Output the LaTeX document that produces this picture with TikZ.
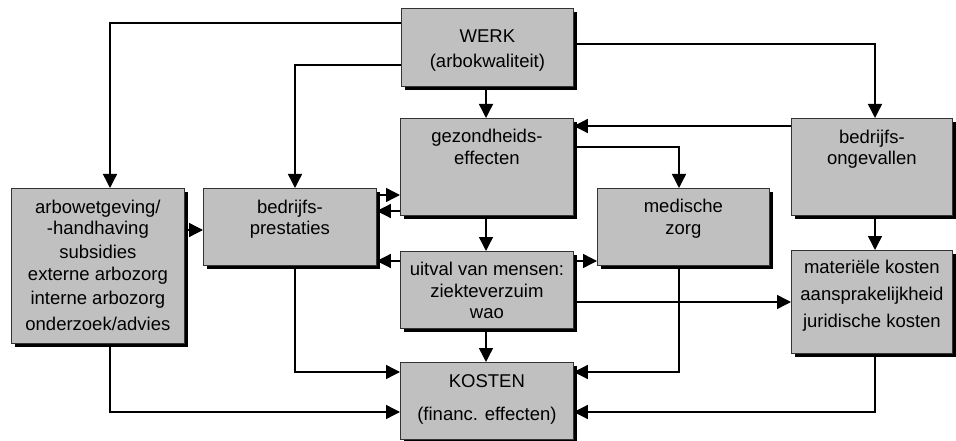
\documentclass[tikz,border=0pt]{standalone}
\usepackage{fontspec}
\setmainfont{Liberation Sans}
\usetikzlibrary{arrows.meta,positioning}
\definecolor{grey75}{HTML}{C0C0C0}
\tikzset{box/.style={draw=black!80,fill=grey75,line width=0.8pt,anchor=north west,inner sep=0pt}}
\tikzset{boxshadow/.style={fill=black}}
\tikzset{boxtext/.style={align=center,inner sep=0pt,font=\fontsize{18.5}{23}\selectfont}}
\tikzset{flow/.style={-{Triangle[length=14pt,width=14pt]},line width=1.4pt}}

\begin{document}
\begin{tikzpicture}[x=1pt,y=-1pt]
        \useasboundingbox (0,0) rectangle (956,441);

        % schaduw onder de blokken
        \fill[boxshadow] (405,12) rectangle (577,90);
        \fill[boxshadow] (404,122) rectangle (577,219);
        \fill[boxshadow] (795,122) rectangle (956,219);
        \fill[boxshadow] (15,192) rectangle (188,347);
        \fill[boxshadow] (207,192) rectangle (380,269);
        \fill[boxshadow] (601,192) rectangle (773,269);
        \fill[boxshadow] (404,255) rectangle (577,332);
        \fill[boxshadow] (795,254) rectangle (956,357);
        \fill[boxshadow] (404,366) rectangle (577,443);

        \node[box,minimum width=172pt,minimum height=78pt] (werk) at (401,8) {};
        \node[box,minimum width=173pt,minimum height=97pt] (gez) at (400,118) {};
        \node[box,minimum width=161pt,minimum height=97pt] (ongev) at (791,118) {};
        \node[box,minimum width=173pt,minimum height=155pt] (arbo) at (11,188) {};
        \node[box,minimum width=173pt,minimum height=77pt] (prest) at (203,188) {};
        \node[box,minimum width=172pt,minimum height=77pt] (med) at (597,188) {};
        \node[box,minimum width=173pt,minimum height=77pt] (uitval) at (400,251) {};
        \node[box,minimum width=161pt,minimum height=103pt] (mater) at (791,250) {};
        \node[box,minimum width=173pt,minimum height=77pt] (kosten) at (400,362) {};

        \node[boxtext,below=22pt of werk.north] (werk-t) {WERK\\[2pt](arbokwaliteit)};
        \node[boxtext,below=11pt of gez.north] (gez-t) {gezondheids-\\[-1pt]effecten};
        \node[boxtext,below=12pt of ongev.north] (ongev-t) {bedrijfs-\\[-2pt]ongevallen};
        \node[boxtext,below=12pt of arbo.north] (arbo-t) {arbowetgeving/\\[-2pt]-handhaving\\[1pt]subsidies\\[-1pt]externe arbozorg\\[1pt]interne arbozorg\\[3pt]onderzoek/advies};
        \node[boxtext,below=12pt of prest.north] (prest-t) {bedrijfs-\\[-2pt]prestaties};
        \node[boxtext,below=11pt of med.north] (med-t) {medische\\[-1pt]zorg};
        \node[boxtext,below=11pt of uitval.north] (uitval-t) {uitval van mensen:\\[-1pt]ziekteverzuim\\[-2pt]wao};
        \node[boxtext,below=10pt of mater.north] (mater-t) {materiële kosten\\[4pt]aansprakelijkheid\\[4pt]juridische kosten};
        \node[boxtext,below=12pt of kosten.north] (kosten-t) {KOSTEN\\[10pt](financ. effecten)};

        \draw[flow] (werk.west |- 0,23) -| (110,0 |- arbo.north);
        \draw[flow] (werk.west |- 0,65) -| (295,0 |- prest.north);
        \draw[flow] (werk.south -| 486,0) -- (gez.north -| 486,0);
        \draw[flow] (werk.east |- 0,44) -| (875,0 |- ongev.north);
        \draw[flow] (ongev.west |- 0,126) -- (gez.east |- 0,126);
        \draw[flow] (gez.east |- 0,147) -| (679,0 |- med.north);
        \draw[flow] (prest.east |- 0,195) -- (gez.west |- 0,195);
        \draw[flow] (gez.west |- 0,211) -- (prest.east |- 0,211);
        \draw[flow] (arbo.east |- 0,230) -- (prest.west |- 0,230);
        \draw[flow] (uitval.west |- 0,261) -- (prest.east |- 0,261);
        \draw[flow] (gez.south -| 486,0) -- (uitval.north -| 486,0);
        \draw[flow] (uitval.east |- 0,261) -- (med.west |- 0,261);
        \draw[flow] (uitval.east |- 0,302) -- (mater.west |- 0,302);
        \draw[flow] (uitval.south -| 486,0) -- (kosten.north -| 486,0);
        \draw[flow] (prest.south -| 295,0) |- (kosten.west |- 0,372);
        \draw[flow] (arbo.south -| 110,0) |- (kosten.west |- 0,412);
        \draw[flow] (med.south -| 679,0) |- (kosten.east |- 0,372);
        \draw[flow] (ongev.south -| 875,0) -- (mater.north -| 875,0);
        \draw[flow] (mater.south -| 875,0) |- (kosten.east |- 0,412);
    \end{tikzpicture}
\end{document}
